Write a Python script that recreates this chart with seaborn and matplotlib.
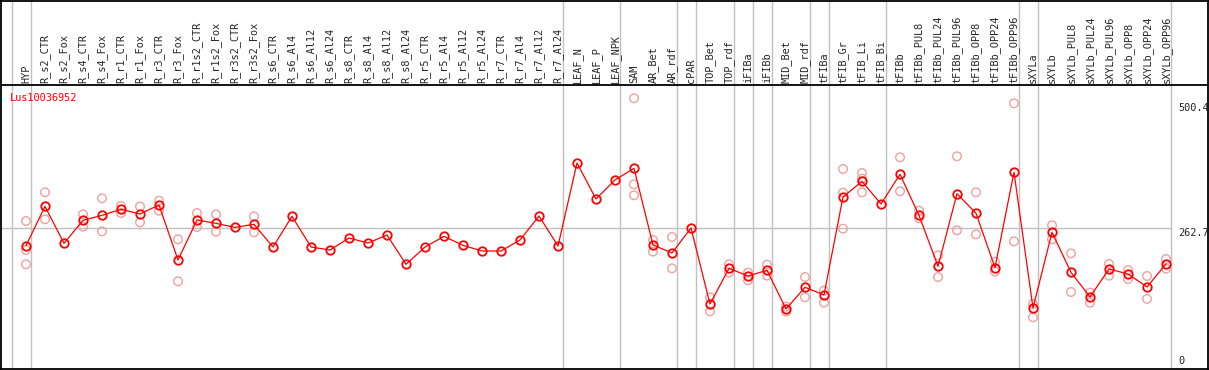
import pandas as pd
import matplotlib
matplotlib.use("Agg")
import matplotlib.pyplot as plt
import seaborn as sns

# Data
gene = "Lus10036952"

samples = ["HYP", "R_s2_CTR", "R_s2_Fox", "R_s4_CTR", "R_s4_Fox", "R_r1_CTR", "R_r1_Fox",
           "R_r3_CTR", "R_r3_Fox", "R_r1s2_CTR", "R_r1s2_Fox", "R_r3s2_CTR", "R_r3s2_Fox",
           "R_s6_CTR", "R_s6_Al4", "R_s6_Al12", "R_s6_Al24", "R_s8_CTR", "R_s8_Al4",
           "R_s8_Al12", "R_s8_Al24", "R_r5_CTR", "R_r5_Al4", "R_r5_Al12", "R_r5_Al24",
           "R_r7_CTR", "R_r7_Al4", "R_r7_Al12", "R_r7_Al24", "LEAF_N", "LEAF_P", "LEAF_NPK",
           "SAM", "AR_Bet", "AR_rdf", "cPAR", "TOP_Bet", "TOP_rdf", "iFIBa", "iFIBb",
           "MID_Bet", "MID_rdf", "tFIBa", "tFIB_Gr", "tFIB_Li", "tFIB_Bi", "tFIBb",
           "tFIBb_PUL8", "tFIBb_PUL24", "tFIBb_PUL96", "tFIBb_OPP8", "tFIBb_OPP24",
           "tFIBb_OPP96", "sXYLa", "sXYLb", "sXYLb_PUL8", "sXYLb_PUL24", "sXYLb_PUL96",
           "sXYLb_OPP8", "sXYLb_OPP24", "sXYLb_OPP96"]

means = [229.8, 304.5, 234.2, 277.9, 287.4, 298.9, 290.0, 307.1, 202.5, 278.6, 272.2,
         264.6, 270.3, 227.2, 285.5, 227.2, 221.5, 244.3, 234.8, 250.1, 194.3, 227.2,
         247.5, 230.4, 219.6, 219.6, 240.5, 286.2, 229.1, 387.0, 318.5, 354.7, 376.8,
         231.1, 215.8, 263.4, 118.9, 186.7, 172.1, 182.9, 109.4, 150.6, 136.0, 322.3,
         352.1, 309.0, 365.4, 287.5, 190.5, 328.7, 291.3, 188.0, 369.2, 111.3, 255.1,
         179.1, 132.2, 185.4, 175.9, 151.2, 195.0]

replicates = [[276.7, 221.5, 194.3], [331.2, 279.8], [], [289.3, 265.9], [319.8, 257.0],
              [305.2, 291.9], [304.5, 274.1], [315.3, 296.3], [241.8, 162.0],
              [291.9, 265.3], [289.3, 256.4], [], [285.5, 255.1], [], [], [], [], [], [],
              [], [], [], [], [], [], [], [], [], [], [], [], [],
              [510.0, 346.4, 325.5], [240.6, 218.4], [246.3, 186.7], [], [131.6, 105.0],
              [194.3, 178.5], [178.5, 163.9], [193.7, 172.8], [113.8, 104.3],
              [170.2, 131.6], [144.2, 121.4], [375.6, 330.6, 262.1],
              [368.0, 357.2, 331.2], [], [397.8, 333.1], [296.3, 281.8], [211.4, 170.2],
              [399.7, 258.9], [331.2, 251.3], [199.4, 180.4], [500.4, 238.0],
              [118.9, 93.5], [268.5, 241.8], [215.2, 141.7], [140.4, 121.4],
              [195.0, 172.8], [183.5, 166.4], [172.1, 128.4], [204.4, 186.1]]

group_sizes = [1, 28, 3, 3, 1, 2, 1, 1, 2, 1, 3, 7, 1, 7]
axis_marks = [0, 262.7, 500.4]

# Long tables for seaborn
mean_df = pd.DataFrame({"pos": range(len(samples)), "sample": samples, "value": means})
rep_rows = []
for i, vals in enumerate(replicates):
    for v in vals:
        rep_rows.append({"pos": i, "sample": samples[i], "value": v})
rep_df = pd.DataFrame(rep_rows)

sns.set_style("white")
plt.rcParams['font.family'] = ['DejaVu Sans Mono', 'DejaVu Sans']

W, H = 1209, 370
fig = plt.figure(figsize=(W / 100, H / 100), dpi=100)
ax = fig.add_axes([1 / W, 1 / H, 1207 / W, 368 / H])

# pixel layout: 19 px per column, first column at x=26; 0.5259 px per unit, zero at y=366.5
step, x0 = 19.0, 26.0
ppu, y0 = 0.5259, 366.5
ax.set_xlim((1 - x0) / step, (1208 - x0) / step)
ax.set_ylim((y0 - 369) / ppu, (y0 - 1) / ppu)
header_y = (y0 - 85) / ppu
label_y = (y0 - 83) / ppu

# group separators
bounds = [-1]
for g in group_sizes:
    bounds.append(bounds[-1] + g)
sep = 4.5 / step
for b in bounds:
    ax.axvline(b + sep, color="#c0c0c0", lw=1.0, zorder=0)
ax.hlines(axis_marks[1], ax.get_xlim()[0], bounds[-1] + sep, color="#c0c0c0", lw=1.0, zorder=0)

ax.axhline(header_y, color="black", lw=1.3, zorder=1)

sns.scatterplot(data=rep_df, x="pos", y="value", ax=ax, marker="o", s=38,
                facecolors="none", edgecolor="#f0a0a0", linewidth=1.0, zorder=2)
sns.lineplot(data=mean_df, x="pos", y="value", ax=ax, color="red", linewidth=0.9,
             marker="o", markersize=6.1, markerfacecolor="none", markeredgecolor="red",
             markeredgewidth=1.3, zorder=3)

for i, name in enumerate(samples):
    ax.text(i, label_y, name, rotation=90, ha="center", va="bottom", fontsize=7.4)

right_x = (1178 - x0) / step
ax.text(right_x, axis_marks[2], f"{axis_marks[2]:.1f}", ha="left", va="top", fontsize=7.4)
ax.text(right_x, axis_marks[1], f"{axis_marks[1]:.1f}", ha="left", va="top", fontsize=7.4)
ax.text(right_x, axis_marks[0], "0", ha="left", va="bottom", fontsize=7.4)

ax.text(9 / 1207, 1 - 92 / 368, gene, transform=ax.transAxes, color="red",
        ha="left", va="top", fontsize=7.4)

ax.set_xticks([])
ax.set_yticks([])
ax.set_xlabel("")
ax.set_ylabel("")
for s in ax.spines.values():
    s.set_visible(True)
    s.set_color("black")
    s.set_linewidth(1.3)

fig.savefig("out.png", dpi=100)
